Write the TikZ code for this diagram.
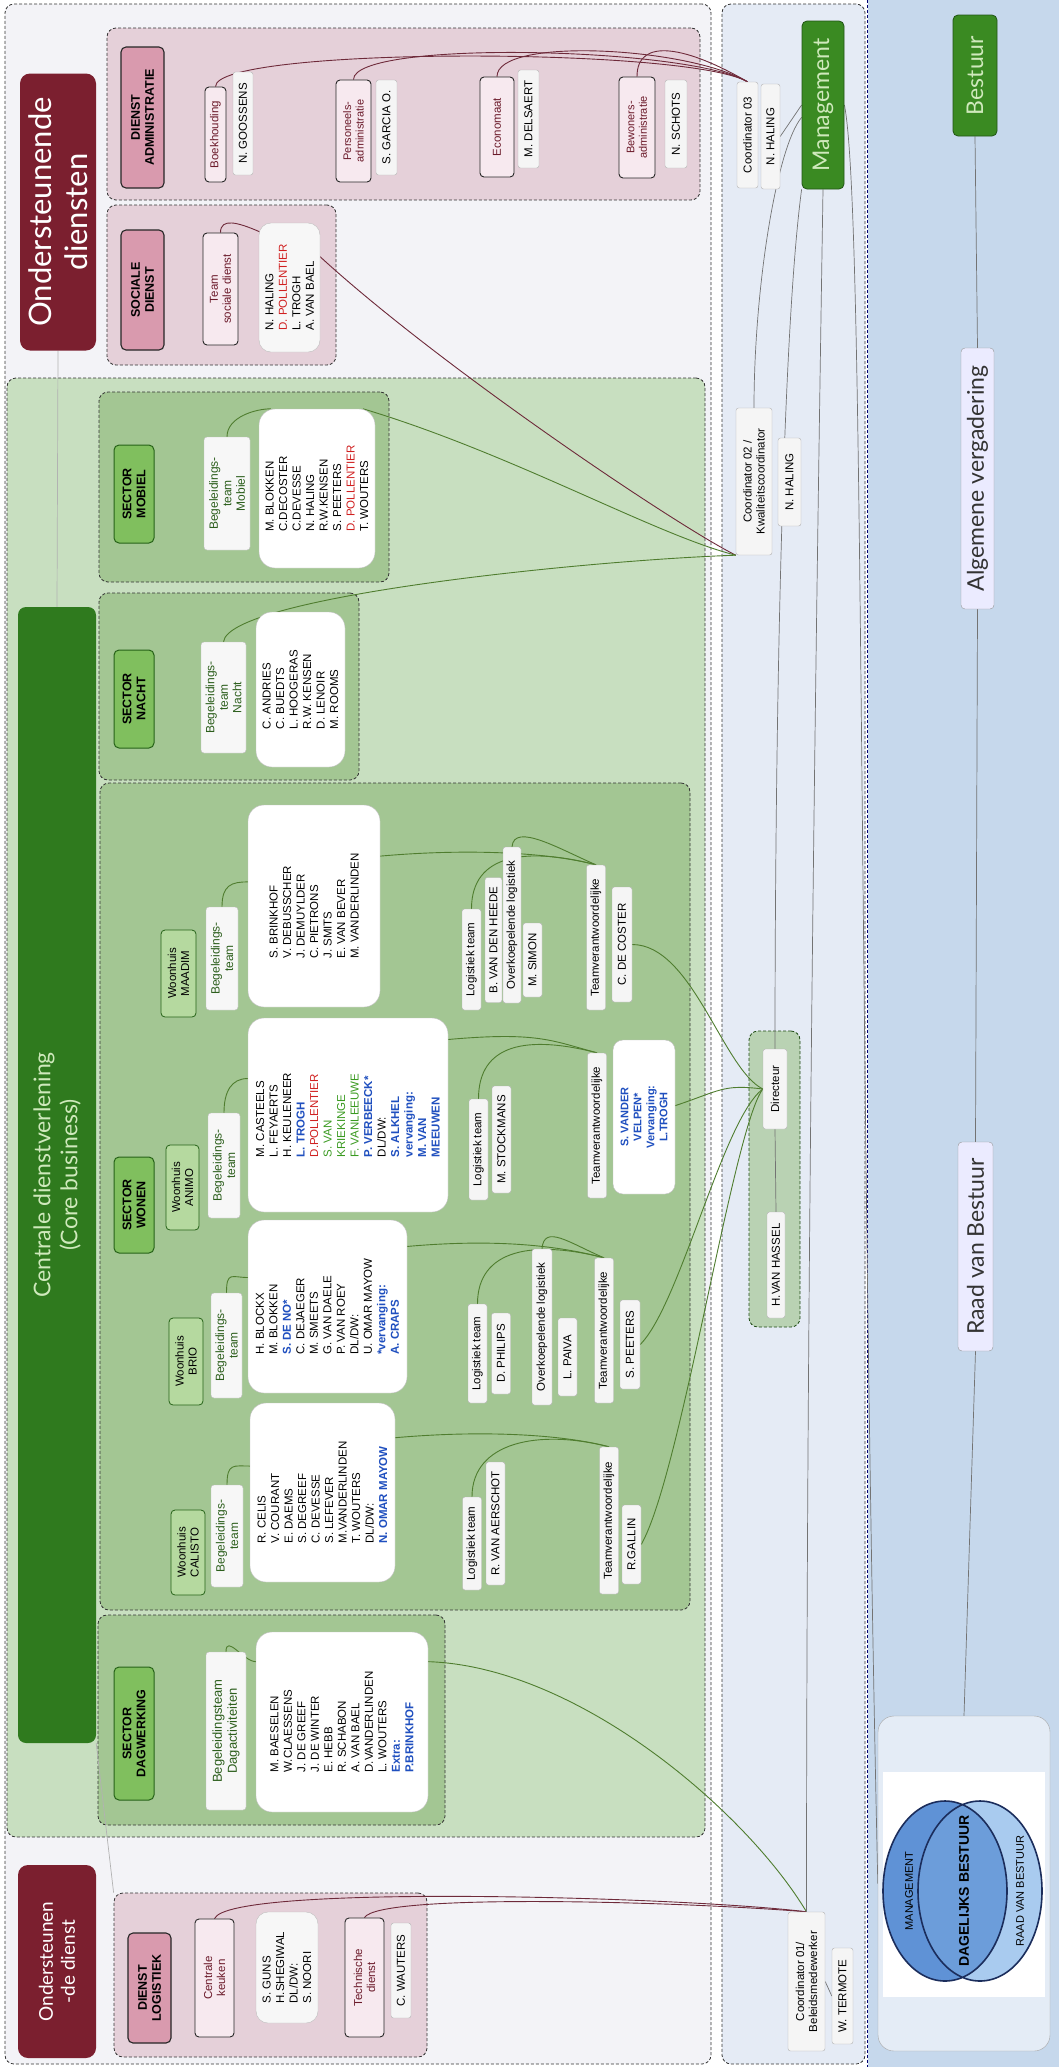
\documentclass[tikz,border=0pt]{standalone}
\usepackage{fontspec}
\setmainfont{Liberation Sans}
\newfontfamily\gill{Lato}
\pgfdeclarelayer{back}
\pgfdeclarelayer{wires}
\pgfsetlayers{back,wires,main}

\definecolor{leftbg}{HTML}{F3F3F7}
\definecolor{midbg}{HTML}{E5EBF5}
\definecolor{rightbg}{HTML}{C6D8EC}
\definecolor{maroonhead}{HTML}{7B1F2F}
\definecolor{pinkgrp}{HTML}{E5D0D9}
\definecolor{pinkhead}{HTML}{D99AAE}
\definecolor{pinkitem}{HTML}{F7E9EF}
\definecolor{pinkline}{HTML}{6E2A3A}
\definecolor{pinktext}{HTML}{6B1A2A}
\definecolor{greenbg}{HTML}{C8DFC0}
\definecolor{greengrp}{HTML}{A3C693}
\definecolor{greenhead}{HTML}{80BF5E}
\definecolor{woongreen}{HTML}{B5D99F}
\definecolor{darkgreen}{HTML}{2F7A1E}
\definecolor{mgmtgreen}{HTML}{3A8A22}
\definecolor{greenline}{HTML}{4F7D2F}
\definecolor{greentext}{HTML}{2C5E1C}
\definecolor{lighttext}{HTML}{CFE9BC}
\definecolor{dirfill}{HTML}{B9D2B3}
\definecolor{nblue}{HTML}{1F4FBF}
\definecolor{nred}{HTML}{D02020}
\definecolor{ngreen}{HTML}{3A9A20}
\definecolor{vennbox}{HTML}{E4ECF6}
\definecolor{vennleft}{HTML}{5F92D6}
\definecolor{vennmid}{HTML}{6C9DDA}
\definecolor{vennright}{HTML}{A9CBEF}
\definecolor{vennline}{HTML}{1B2D5C}

\newcommand\nameblue[1]{\textcolor{nblue}{\bfseries #1}}
\newcommand\namered[1]{\textcolor{nred}{#1}}
\newcommand\namegreen[1]{\textcolor{ngreen}{#1}}

\begin{document}
\begin{tikzpicture}[
	x=1pt, y=-1pt,
	sz/.style 2 args={rotate=90, minimum height=#1, minimum width=#2, inner sep=1.5pt},
	gsz/.style 2 args={minimum width=#1, minimum height=#2, inner sep=0pt},
	grp/.style={draw=black!80, densely dashed, line width=0.8pt, rounded corners=9},
	names/.style={fill=white, draw=black!25, rounded corners=16, align=left, font=\fontsize{11.5}{13.5}\selectfont},
	tag/.style={fill=black!4, draw=black!30, rounded corners=2.5, align=center, font=\fontsize{11.5}{13}\selectfont},
	ptag/.style={fill=pinkitem, draw=black!85, line width=0.9pt, rounded corners=4, text=pinktext, align=center, font=\fontsize{11.5}{13}\selectfont},
	phead/.style={fill=pinkhead, draw=black!85, line width=1.1pt, rounded corners=5, align=center, font=\bfseries\fontsize{12.5}{14}\selectfont},
	mhead/.style={fill=maroonhead, rounded corners=10, text=white, align=center},
	shead/.style={fill=greenhead, draw=darkgreen!80!black, line width=1pt, rounded corners=5, align=center, font=\bfseries\fontsize{12.5}{14}\selectfont},
	woon/.style={fill=woongreen, draw=darkgreen!80!black, line width=0.8pt, rounded corners=4, align=center, font=\fontsize{11.5}{13}\selectfont},
	bteam/.style={fill=black!3, draw=black!25, rounded corners=3, text=greentext, align=center, font=\fontsize{12}{13.5}\selectfont},
	ghead/.style={fill=mgmtgreen, draw=darkgreen!70!black, line width=0.8pt, rounded corners=5, text=lighttext, font=\gill\fontsize{23}{26}\selectfont},
	wtitle/.style={fill=white!92!blue, draw=black!40, rounded corners=4, text=black!80, font=\gill\fontsize{23}{26}\selectfont},
	gline/.style={draw=greenline, line width=0.9pt},
	pline/.style={draw=pinkline, line width=0.9pt},
	bline/.style={draw=black!55, line width=0.7pt}
]
\useasboundingbox (0,0) rectangle (1059,2067);

% columns and groups
\begin{pgfonlayer}{back}
	\node at (963.5,1033.5) (colR) [gsz={191}{2067}, fill=rightbg] {};
	\draw[densely dashed, draw=blue!45!black, line width=0.9pt] (colR.north west) -- (colR.south west);
	\node at (358,1034) (colL) [gsz={706}{2060}, grp, fill=leftbg] {};
	\node at (793.5,1034) (colM) [gsz={143}{2060}, grp, fill=midbg] {};
	\node at (356,1107.5) (greenR) [gsz={698}{1459}, grp, fill=greenbg] {};
	\node at (403.5,114) (admgrp) [gsz={593}{172}, grp, fill=pinkgrp] {};
	\node at (221.5,285) (sdgrp) [gsz={229}{160}, grp, fill=pinkgrp] {};
	\node at (244,487) (mobgrp) [gsz={290}{190}, grp, fill=greengrp] {};
	\node at (229,686.5) (nachtgrp) [gsz={260}{187}, grp, fill=greengrp] {};
	\node at (395,1196.5) (wongrp) [gsz={590}{827}, grp, fill=greengrp] {};
	\node at (271.5,1720) (daggrp) [gsz={347}{210}, grp, fill=greengrp] {};
	\node at (270.5,1975) (loggrp) [gsz={313}{164}, grp, fill=pinkgrp] {};
	\node at (774.5,1179) (dirgrp) [gsz={51}{296}, grp, draw=darkgreen!60!black, fill=dirfill] {};
\end{pgfonlayer}

% ondersteunende diensten
\node at (58,212) (ondD) [mhead, sz={76}{277}, font=\gill\fontsize{31}{36}\selectfont] {Ondersteunende\\diensten};
\node at (142.5,117.5) (adm) [phead, sz={43}{141}] {DIENST\\ADMINISTRATIE};
\node at (215.5,134.5) (boek) [ptag, sz={21}{95}] {Boekhouding};
\node at (243,123.5) (goos) [tag, sz={20}{103}] {N. GOOSSENS};
\node at (353.5,131) (pers) [ptag, sz={35}{102}, font=\fontsize{11}{12.5}\selectfont] {Personeels-\\administratie};
\node at (386.5,127.5) (garc) [tag, sz={21}{95}] {S. GARCIA O.};
\node at (497,127) (econ) [ptag, sz={34}{100}] {Economaat};
\node at (528.5,119) (dels) [tag, sz={21}{98}] {M. DELSAERT};
\node at (637,127.5) (bew) [ptag, sz={36}{101}, font=\fontsize{11}{12.5}\selectfont] {Bewoners-\\administratie};
\node at (676,124) (scho) [tag, sz={22}{88}] {N. SCHOTS};

\node at (142.5,290) (soc) [phead, sz={43}{120}] {SOCIALE\\DIENST};
\node at (220.5,289) (tsd) [ptag, sz={35}{112}] {Team\\sociale dienst};
\node at (289.5,287.5) (sdn) [names, sz={61}{129}, fill=black!3, rounded corners=12] {N. HALING\\\namered{D. POLLENTIER}\\L. TROGH\\A. VAN BAEL};

% management and bestuur
\node at (823,105) (mgmt) [ghead, sz={42}{168}] {Management};
\node at (747.5,135) (coC) [tag, sz={21}{106}] {Coordinator 03};
\node at (770.5,136.5) (halC) [tag, sz={19}{105}] {N. HALING};
\node at (754,481.5) (coB) [tag, sz={36}{147}] {Coordinator 02 /\\Kwaliteitscoordinator};
\node at (789.5,482) (halB) [tag, sz={23}{88}] {N. HALING};
\node at (775,1089) (dir) [tag, sz={24}{80}] {Directeur};
\node at (776,1265) (has) [tag, sz={18}{106}] {H.VAN HASSEL};
\node at (806.5,1981.5) (coA) [tag, sz={37}{139}] {Coordinator 01/\\Beleidsmedewerker};
\node at (842.5,1996) (term) [tag, sz={21}{96}] {W. TERMOTE};

\node at (975,75.5) (best) [ghead, sz={44}{121}] {Bestuur};
\node at (977.5,478.5) (algv) [wtitle, sz={33}{261}] {Algemene vergadering};
\node at (975.5,1246.5) (rvb) [wtitle, sz={35}{209}] {Raad van Bestuur};
\node at (964,1883.5) (venn) [gsz={172}{335}, fill=vennbox, draw=black!35, rounded corners=16] {};

% dagelijks bestuur
\fill[white] (883,1772) rectangle (1045,1997);
\fill[vennleft] (945,1891) ellipse (62pt and 90pt);
\fill[vennright] (980,1891) ellipse (62pt and 90pt);
\begin{scope}
	\clip (945,1891) ellipse (62pt and 90pt);
	\fill[vennmid] (980,1891) ellipse (62pt and 90pt);
\end{scope}
\draw[vennline, line width=1.6pt] (945,1891) ellipse (62pt and 90pt) (980,1891) ellipse (62pt and 90pt);
\node at (909,1891) (vm) [rotate=90, font=\fontsize{11}{12}\selectfont] {MANAGEMENT};
\node at (964,1891) (vd) [rotate=90, font=\bfseries\fontsize{14}{15}\selectfont] {DAGELIJKS BESTUUR};
\node at (1020,1891) (vr) [rotate=90, font=\fontsize{11}{12}\selectfont] {RAAD VAN BESTUUR};

% centrale dienstverlening
\node at (57,1175) (cd) [sz={78}{1136}, fill=darkgreen, rounded corners=8, text=lighttext, align=center, font=\gill\fontsize{23}{27}\selectfont] {Centrale dienstverlening\\(Core business)};

% sector mobiel
\node at (134,494) (secM) [shead, sz={40}{98}] {SECTOR\\MOBIEL};
\node at (227,493.5) (bgM) [bteam, sz={46}{113}] {Begeleidings-\\team\\Mobiel};
\node at (317,488.5) (nmM) [names, sz={116}{159}] {M. BLOKKEN\\C.DECOSTER\\C.DEVESSE\\N. HALING\\R.W.KENSEN\\S. PEETERS\\\namered{D. POLLENTIER}\\T. WOUTERS};

% sector nacht
\node at (134,699) (secN) [shead, sz={40}{98}] {SECTOR\\NACHT};
\node at (223.5,697.5) (bgN) [bteam, sz={45}{111}] {Begeleidings-\\team\\Nacht};
\node at (300.5,689.5) (nmN) [names, sz={89}{155}] {C. ANDRIES\\C. BUEDTS\\L. HOOGERAS\\R.W. KENSEN\\D. LENOIR\\M. ROOMS};

% sector wonen
\node at (134,1205) (secW) [shead, sz={40}{96}] {SECTOR\\WONEN};

% woonhuis maadim
\node at (178.5,973.5) (whMa) [woon, sz={35}{87}] {Woonhuis\\MAADIM};
\node at (222,958.5) (bgMa) [bteam, sz={32}{103}] {Begeleidings-\\team};
\node at (314,906) (nmMa) [names, sz={132}{202}] {S. BRINKHOF\\V. DEBUSSCHER\\J. DEMUYLDER\\C. PIETRONS\\J. SMITS\\E. VAN BEVER\\M. VANDERLINDEN};
\node at (471.5,959.5) (lgMa) [tag, sz={19}{101}] {Logistiek team};
\node at (493.5,940) (hee) [tag, sz={17}{125}] {B. VAN DEN HEEDE};
\node at (512,925) (ovMa) [tag, sz={18}{156}] {Overkoepelende logistiek};
\node at (532.5,960) (sim) [tag, sz={19}{74}] {M. SIMON};
\node at (596,937.5) (tvMa) [tag, sz={19}{145}] {Teamverantwoordelijke};
\node at (622,944.5) (cos) [tag, sz={20}{115}] {C. DE COSTER};

% woonhuis animo
\node at (182.5,1187.5) (whA) [woon, sz={33}{85}] {Woonhuis\\ANIMO};
\node at (224,1165.5) (bgA) [bteam, sz={32}{105}] {Begeleidings-\\team};
\node at (348,1115) (nmA) [names, sz={200}{194}] {M. CASTEELS\\L. FEYAERTS\\H. KEULENEER\\\nameblue{L. TROGH}\\\namered{D.POLLENTIER}\\\namegreen{S. VAN}\\\namegreen{KRIEKINGE}\\\namegreen{F. VANLEEUWE}\\\nameblue{P. VERBEECK*}\\DL/DW:\\\nameblue{S. ALKHEL}\\\nameblue{vervanging:}\\\nameblue{M. VAN}\\\nameblue{MEEUWEN}};
\node at (478.5,1149.5) (lgA) [tag, sz={19}{101}] {Logistiek team};
\node at (501.5,1139.5) (sto) [tag, sz={19}{107}] {M. STOCKMANS};
\node at (597,1125.5) (tvA) [tag, sz={19}{145}] {Teamverantwoordelijke};
\node at (644,1117) (vel) [names, sz={62}{154}, align=center, rounded corners=10, text=nblue, font=\bfseries\fontsize{11}{13}\selectfont] {S. VANDER\\VELPEN*\\Vervanging:\\L.TROGH};

% woonhuis brio
\node at (186,1361.5) (whB) [woon, sz={34}{87}] {Woonhuis\\BRIO};
\node at (226.5,1345.5) (bgB) [bteam, sz={31}{105}] {Begeleidings-\\team};
\node at (327.5,1306.5) (nmB) [names, sz={159}{173}] {H. BLOCKX\\M. BLOKKEN\\\nameblue{S. DE NO*}\\C. DEJAEGER\\M. SMEETS\\G. VAN DAELE\\P. VAN ROEY\\DL/DW:\\U. OMAR MAYOW\\\nameblue{*vervanging:}\\\nameblue{A. CRAPS}};
\node at (477.5,1353.5) (lgB) [tag, sz={19}{99}] {Logistiek team};
\node at (501,1353.5) (phi) [tag, sz={19}{81}] {D. PHILIPS};
\node at (542,1327) (ovB) [tag, sz={20}{156}] {Overkoepelende logistiek};
\node at (567.5,1357) (pai) [tag, sz={19}{78}] {L. PAIVA};
\node at (604,1330.5) (tvB) [tag, sz={19}{145}] {Teamverantwoordelijke};
\node at (630,1344.5) (pee) [tag, sz={20}{89}] {S. PEETERS};

% woonhuis calisto
\node at (188,1552.5) (whC) [woon, sz={34}{85}] {Woonhuis\\CALISTO};
\node at (227,1536) (bgC) [bteam, sz={32}{102}] {Begeleidings-\\team};
\node at (322.5,1492.5) (nmC) [names, sz={145}{179}] {R. CELIS\\V. COURANT\\E. DAEMS\\S. DEGREEF\\C. DEVESSE\\S. LEFEVER\\M.VANDERLINDEN\\T. WOUTERS\\DL/DW:\\\nameblue{N. OMAR MAYOW}};
\node at (472,1543.5) (lgC) [tag, sz={19}{93}] {Logistiek team};
\node at (495.5,1523.5) (aer) [tag, sz={19}{123}] {R. VAN AERSCHOT};
\node at (609,1520.5) (tvC) [tag, sz={19}{147}] {Teamverantwoordelijke};
\node at (631.5,1544.5) (gal) [tag, sz={19}{79}] {R.GALLIN};

% sector dagwerking
\node at (134,1733.5) (secD) [shead, sz={40}{133}] {SECTOR\\DAGWERKING};
\node at (226,1731) (bgD) [bteam, sz={40}{158}, font=\fontsize{13}{15}\selectfont] {Begeleidingsteam\\Dagactiviteiten};
\node at (342,1722) (nmD) [names, sz={172}{180}] {M. BAESELEN\\W.CLAESSENS\\J. DE GREEF\\J. DE WINTER\\E. HEBB\\R. SCHABON\\A. VAN BAEL\\D.VANDERLINDEN\\L. WOUTERS\\\nameblue{Extra:}\\\nameblue{P.BRINKHOF}};

% ondersteunende dienst logistiek
\node at (57,1961.5) (odd) [mhead, sz={78}{193}, font=\gill\fontsize{19}{22}\selectfont] {Ondersteunen\\-de dienst};
\node at (149.5,1988) (dlog) [phead, sz={43}{110}] {DIENST\\LOGISTIEK};
\node at (214.5,1978) (keu) [ptag, sz={39}{118}] {Centrale\\keuken};
\node at (287,1967.5) (nmL) [names, sz={62}{111}, fill=black!3, rounded corners=12] {S. GUNS\\H.SHEGIWAL\\DL/DW:\\S. NOORI};
\node at (364.5,1977.5) (tech) [ptag, sz={39}{119}] {Technische\\dienst};
\node at (401,1970.5) (wau) [tag, sz={20}{95}] {C. WAUTERS};

% connectors
\begin{pgfonlayer}{wires}
	\foreach \p in {boek,pers,econ,bew} \draw[pline] (\p.east) .. controls +(0,-40) and +(-60,-35) .. (coC.east);
	\draw[pline] (tsd.east) .. controls +(0,-30) and +(-30,-5) .. (sdn.315) .. controls +(120,110) and +(-60,-30) .. (coB.north west);
	\draw[gline] (bgM.east) .. controls +(0,-20) and +(-15,0) .. (nmM.30);
	\draw[gline] (nmM.330) .. controls +(150,45) and +(-80,-20) .. (coB.north west);
	\draw[gline] (bgN.east) .. controls +(5,-45) and +(-150,5) .. (coB.north west);
	\foreach \b/\n in {bgMa/nmMa,bgA/nmA,bgB/nmB,bgC/nmC} \draw[gline] (\b.east) .. controls +(0,-22) and +(-16,0) .. (\n.70);
	\draw[gline] (bgD.east) .. controls +(0,-18) and +(-12,0) .. (nmD.55);
	\foreach \n/\t in {nmMa/tvMa,nmA/tvA,nmB/tvB,nmC/tvC} \draw[gline] (\n.307) .. controls +(90,-8) and +(-45,-12) .. (\t.east);
	\foreach \l/\t in {lgMa/tvMa,lgA/tvA,lgB/tvB,lgC/tvC} \draw[gline] (\l.east) .. controls +(0,-55) and +(-70,-18) .. (\t.east);
	\foreach \o/\t in {ovMa/tvMa,ovB/tvB} \draw[gline] (\o.east) .. controls +(2,-25) and +(-35,-15) .. (\t.east);
	\draw[gline] (cos.south) .. controls +(60,0) and +(-40,-20) .. (dir.north);
	\draw[gline] (vel.290) .. controls +(45,-15) and +(-40,-5) .. (dir.north);
	\draw[gline] (pee.south) .. controls +(40,-40) and +(-40,30) .. (dir.north);
	\draw[gline] (gal.south) .. controls +(40,-70) and +(-30,40) .. (dir.north);
	\draw[gline] (nmD.305) .. controls +(150,5) and +(-60,-100) .. (coA.east);
	\draw[pline] (keu.east) .. controls +(15,-35) and +(-120,-15) .. (coA.east);
	\draw[pline] (tech.east) .. controls +(15,-25) and +(-120,-10) .. (coA.east);
	\draw[bline] (mgmt.north) -- (halC.south);
	\draw[bline] (mgmt.120) .. controls +(-25,30) and +(0,-120) .. (coB.east);
	\draw[bline] (mgmt.north west) .. controls +(-20,150) and +(0,-300) .. (dir.east);
	\draw[bline] (mgmt.west) .. controls +(-8,500) and +(0,-600) .. (coA.east);
	\draw[bline] (mgmt.south) .. controls +(20,100) and +(-20,-900) .. (venn.west);
	\draw[bline] (dir.west) -- (has.east);
	\draw[bline] (coA.south) -- (term.north);
	\draw[bline] (best.west) -- (algv.east) (algv.west) -- (rvb.east) (rvb.west) -- (venn.north);
	\draw[bline, draw=black!30] (ondD.west) -- (cd.east);
	\draw[bline, draw=black!30] (cd.south west) -- (loggrp.north west);
\end{pgfonlayer}

\end{tikzpicture}
\end{document}
